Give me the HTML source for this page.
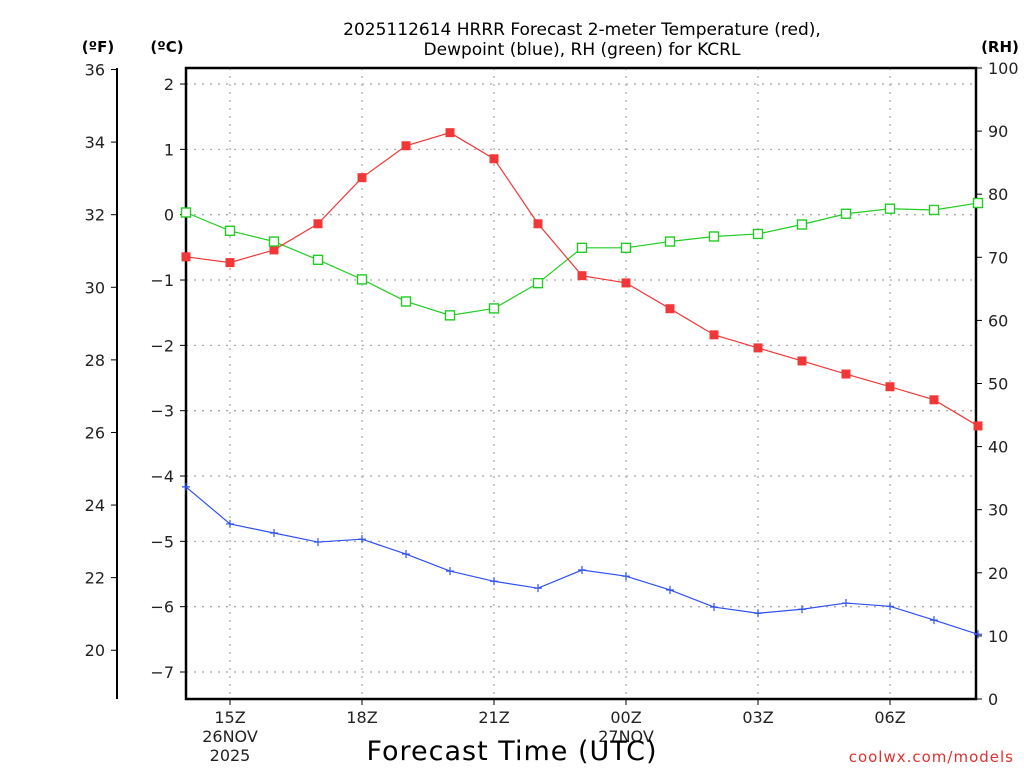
<!DOCTYPE html>
<html><head><meta charset="utf-8"><style>
body{margin:0;background:#fff;}
svg text{font-family:"DejaVu Sans","Liberation Sans",sans-serif;}
</style></head><body>
<svg id="chart" width="1024" height="768" xmlns="http://www.w3.org/2000/svg">
<g id="grid"></g>
<g id="axes"></g>
<g id="series"></g>
<text x="582" y="35" text-anchor="middle" font-size="17">2025112614 HRRR Forecast 2-meter Temperature (red),</text>
<text x="582" y="55" text-anchor="middle" font-size="17">Dewpoint (blue), RH (green) for KCRL</text>
<text x="98" y="52" text-anchor="middle" font-size="15" font-weight="bold">(ºF)</text>
<text x="167" y="52" text-anchor="middle" font-size="15" font-weight="bold">(ºC)</text>
<text x="1000" y="52" text-anchor="middle" font-size="15" font-weight="bold">(RH)</text>
<text x="512" y="760" text-anchor="middle" font-size="27" letter-spacing="1">Forecast Time (UTC)</text>
<text x="1014" y="762" text-anchor="end" font-size="15" fill="#e03030" letter-spacing="1">coolwx.com/models</text>
</svg>
<script>
const hours=[14,15,16,17,18,19,20,21,22,23,0,1,2,3,4,5,6,7,8];
const tempF=[30.84,30.68,31.03,31.75,33.02,33.90,34.26,33.54,31.75,30.32,30.12,29.41,28.69,28.33,27.97,27.61,27.26,26.90,26.18];
const dewF=[24.50,23.48,23.23,22.98,23.06,22.65,22.18,21.90,21.71,22.21,22.04,21.66,21.19,21.02,21.13,21.30,21.21,20.83,20.44];
const rh=[77.1,74.2,72.5,69.6,66.5,63.0,60.8,61.9,65.9,71.5,71.5,72.5,73.3,73.7,75.2,76.9,77.7,77.5,78.6];
const cTicks=[2,1,0,-1,-2,-3,-4,-5,-6,-7];
const fTicks=[36,34,32,30,28,26,24,22,20];
const rhTicks=[0,10,20,30,40,50,60,70,80,90,100];
const xTickIdx=[1,4,7,10,13,16];
const xTickLabels=["15Z","18Z","21Z","00Z","03Z","06Z"];
const xSubLabels={1:["26NOV","2025"],10:["27NOV"]};

const L=186,R=976,T=68,B=699;
const NS="http://www.w3.org/2000/svg";
const xs=i=>L+i*(792/18);
const yC=c=>214.7-c*65.33;
const yF=f=>yC((f-32)*5/9);
const yRH=v=>B-v*(B-T)/100;
function mk(tag,attrs,parent,txt){const e=document.createElementNS(NS,tag);for(const k in attrs)e.setAttribute(k,attrs[k]);if(txt!==undefined)e.textContent=txt;parent.appendChild(e);return e;}
const grid=document.getElementById('grid'),axes=document.getElementById('axes'),series=document.getElementById('series');
const dash={stroke:'#aaa','stroke-width':1.3,'stroke-dasharray':'2,6'};
cTicks.forEach(c=>{const y=yC(c);
 const g=mk('line',Object.assign({x1:L,x2:R,y1:y,y2:y},dash),grid);
 
 
 mk('line',{x1:L-6,x2:L,y1:y,y2:y,stroke:'#000'},axes);
 const t=mk('text',{x:L-12,y:y+6,'text-anchor':'end','font-size':16,fill:'#222'},axes,(c<0?'−':'')+Math.abs(c));
 
 
});
xTickIdx.forEach((i,k)=>{const x=xs(i);
 const g=mk('line',Object.assign({x1:x,x2:x,y1:T,y2:B},dash),grid);
 
 
 mk('line',{x1:x,x2:x,y1:B,y2:B+6,stroke:'#000'},axes);
 const t=mk('text',{x:x,y:B+24,'text-anchor':'middle','font-size':16,fill:'#222'},axes,xTickLabels[k]);
 
 
 (xSubLabels[i]||[]).forEach((s,j)=>{const u=mk('text',{x:x,y:B+43+j*19,'text-anchor':'middle','font-size':16,fill:'#222'},axes,s);
  
  });
});
mk('line',{x1:117,x2:117,y1:T,y2:B,stroke:'#000','stroke-width':2},axes);
fTicks.forEach(f=>{const y=yF(f);
 mk('line',{x1:111,x2:117,y1:y,y2:y,stroke:'#000'},axes);
 const t=mk('text',{x:105,y:y+6,'text-anchor':'end','font-size':16,fill:'#222'},axes,f);
 
 
});
rhTicks.forEach(v=>{const y=yRH(v);
 mk('line',{x1:R,x2:R+6,y1:y,y2:y,stroke:'#000'},axes);
 const t=mk('text',{x:R+12,y:y+6,'text-anchor':'start','font-size':16,fill:'#222'},axes,v);
 
 
});
const fr=mk('rect',{x:L,y:T,width:R-L,height:B-T,fill:'none',stroke:'#000','stroke-width':2.5},axes);


function line(vals,yf,color,name){
 const pts=vals.map((v,i)=>xs(i)+','+yf(v)).join(' ');
 const p=mk('polyline',{points:pts,fill:'none',stroke:color,'stroke-width':1.2},series);
 
 
}
line(rh,yRH,'#22cc22','rh');
line(tempF,yF,'#f03838','temperature');
line(dewF,yF,'#3050f0','dewpoint');
tempF.forEach((v,i)=>{const m=mk('rect',{x:xs(i)-4.5,y:yF(v)-4.5,width:9,height:9,fill:'#f03838'},series);
 
 });
rh.forEach((v,i)=>{const m=mk('rect',{x:xs(i)-4.5,y:yRH(v)-4.5,width:9,height:9,fill:'#fff',stroke:'#22cc22','stroke-width':1.4},series);
 
 });
dewF.forEach((v,i)=>{const x=xs(i),y=yF(v);const m=mk('path',{d:`M${x-4},${y}H${x+4}M${x},${y-4}V${y+4}`,stroke:'#3050f0','stroke-width':1.2},series);
 
 });
</script>
</body></html>
